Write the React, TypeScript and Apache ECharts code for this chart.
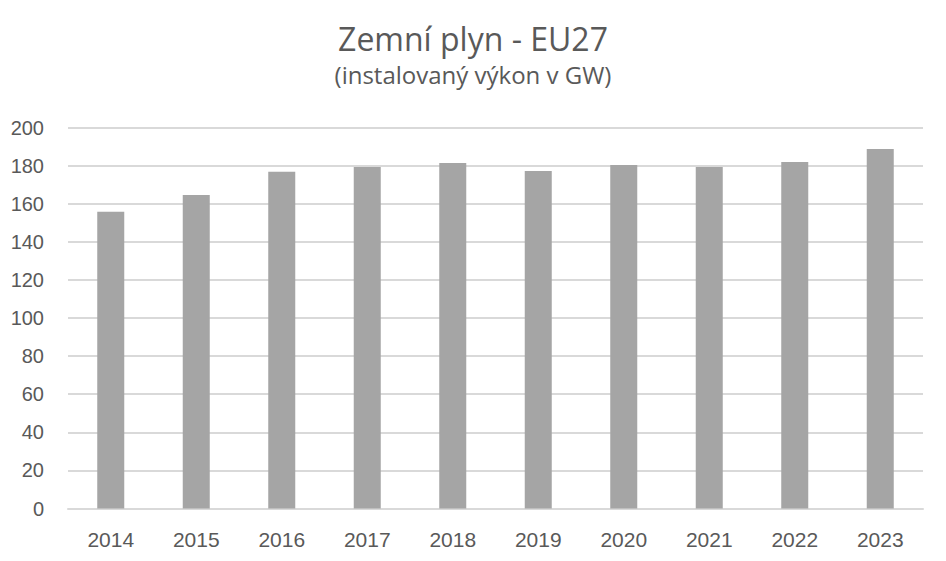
import React, { useEffect, useRef } from "react";
import * as echarts from "echarts";

const years = ["2014", "2015", "2016", "2017", "2018", "2019", "2020", "2021", "2022", "2023"];
const capacityGW = [155.8, 164.6, 176.8, 179.3, 181.4, 177.2, 180.3, 179.3, 181.9, 188.7];
const titleText = "Zemní plyn - EU27";
const subtitleText = "(instalovaný výkon v GW)";

export default function App() {
  const ref = useRef<HTMLDivElement>(null);
  useEffect(() => {
    if (!ref.current) return;
    const chart = echarts.init(ref.current, undefined, { renderer: "svg" });
    chart.setOption({
      animation: false,
      backgroundColor: "#ffffff",
      title: {
        text: titleText,
        subtext: subtitleText,
        left: "center",
        top: 13,
        itemGap: 1,
        textStyle: { fontFamily: "Open Sans", fontSize: 32, fontWeight: "normal", color: "#595959", lineHeight: 40 },
        subtextStyle: { fontFamily: "Open Sans", fontSize: 24, color: "#595959", lineHeight: 30 },
      },
      grid: { left: 68, right: 23, top: 127.5, bottom: 52.5, containLabel: false },
      xAxis: {
        type: "category",
        data: years,
        axisLine: { show: true, lineStyle: { color: "#d9d9d9", width: 2 } },
        axisTick: { show: false },
        axisLabel: { color: "#595959", fontSize: 21, fontFamily: "Liberation Sans", margin: 20 },
      },
      yAxis: {
        type: "value",
        min: 0,
        max: 200,
        interval: 20,
        axisLine: { show: false },
        axisTick: { show: false },
        splitLine: { lineStyle: { color: "#d9d9d9", width: 2 } },
        axisLabel: { color: "#595959", fontSize: 20, fontFamily: "Liberation Sans", margin: 24 },
      },
      series: [
        {
          type: "bar",
          data: capacityGW,
          barWidth: 27,
          itemStyle: { color: "#a5a5a5" },
        },
      ],
    });
    return () => chart.dispose();
  }, []);
  return <div ref={ref} style={{ position: "fixed", left: 0, top: 0, width: 946, height: 561 }} />;
}
